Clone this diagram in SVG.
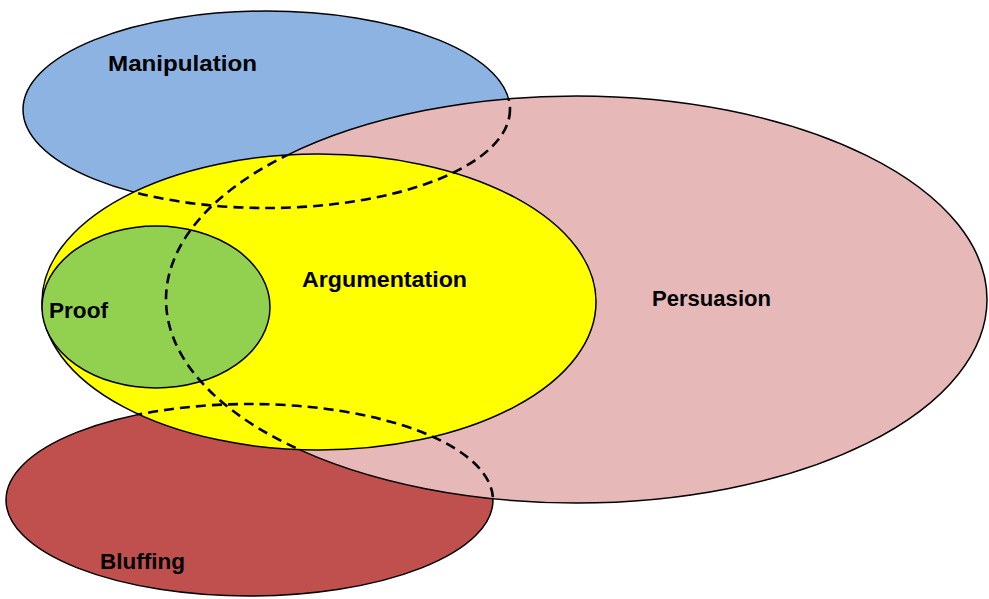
<svg xmlns="http://www.w3.org/2000/svg" width="989" height="599" viewBox="0 0 989 599">
<style>
.shape{stroke:#000;stroke-width:1.5}
.hidden{fill:none;stroke:#000;stroke-width:2.6;stroke-dasharray:10 6}
.label{font-family:"Liberation Sans",Arial,sans-serif;font-weight:bold;font-size:22px;fill:#000}
</style>
<defs>
<clipPath id="clipPinkYellow">
<ellipse cx="576.5" cy="299.5" rx="410.5" ry="203.5"/>
<ellipse cx="319" cy="302" rx="277" ry="148"/>
</clipPath>
<clipPath id="clipYellow">
<ellipse cx="319" cy="302" rx="277" ry="148"/>
</clipPath>
</defs>
<rect width="989" height="599" fill="#fff"/>
<g id="manipulation">
<ellipse class="shape" cx="266.5" cy="109.5" rx="243.5" ry="98.5" fill="#8DB3E2"/>
<text class="label" x="108" y="71" textLength="149" lengthAdjust="spacingAndGlyphs">Manipulation</text>
</g>
<g id="bluffing">
<ellipse class="shape" cx="249.5" cy="500" rx="243.5" ry="96" fill="#C0504D"/>
<text class="label" x="100" y="569" textLength="85" lengthAdjust="spacingAndGlyphs">Bluffing</text>
</g>
<g id="persuasion">
<ellipse class="shape" cx="576.5" cy="299.5" rx="410.5" ry="203.5" fill="#E6B8B7"/>
<text class="label" x="652" y="306" textLength="119" lengthAdjust="spacingAndGlyphs">Persuasion</text>
</g>
<g id="argumentation">
<ellipse class="shape" cx="319" cy="302" rx="277" ry="148" fill="#FFFF00"/>
<text class="label" x="302" y="287" textLength="165" lengthAdjust="spacingAndGlyphs">Argumentation</text>
</g>
<g id="proof">
<ellipse class="shape" cx="156" cy="307" rx="114" ry="81" fill="#92D050"/>
<text class="label" x="49" y="318" textLength="59" lengthAdjust="spacingAndGlyphs">Proof</text>
</g>
<g id="hidden-outlines">
<ellipse class="hidden" cx="266.5" cy="109.5" rx="243.5" ry="98.5" clip-path="url(#clipPinkYellow)"/>
<ellipse class="hidden" cx="249.5" cy="500" rx="243.5" ry="96" clip-path="url(#clipPinkYellow)"/>
<ellipse class="hidden" cx="576.5" cy="299.5" rx="410.5" ry="203.5" clip-path="url(#clipYellow)"/>
</g>
</svg>
